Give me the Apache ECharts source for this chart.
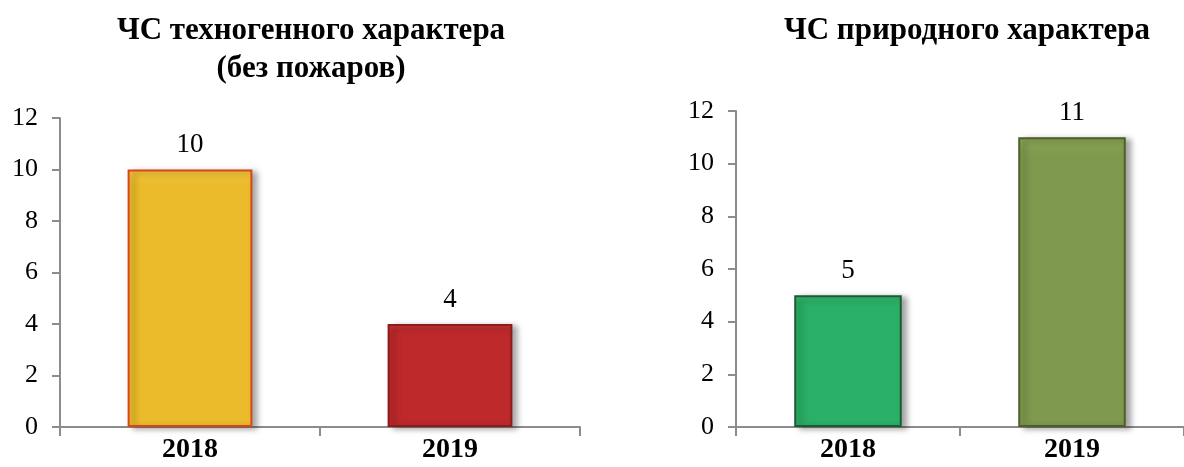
<!DOCTYPE html>
<html><head><meta charset="utf-8">
<script src="https://cdn.jsdelivr.net/npm/echarts@6/dist/echarts.min.js"></script>
<style>html,body{margin:0;padding:0;background:#fff}#c{width:1184px;height:467px}</style>
</head><body><div id="c"></div>
<script>
const categories = ['2018', '2019'];
const techValues = [10, 4];
const natValues = [5, 11];
const yTicks = [0, 2, 4, 6, 8, 10, 12];
const titleTech = 'ЧС техногенного характера\n(без пожаров)';
const titleNat = 'ЧС природного характера';

const techColors = [['#F2C63A', '#EBBB2B', '#D8461A'], ['#CC3A3C', '#BE292B', '#8E1B1B']];
const natColors = [['#38BE72', '#2AB067', '#1E5A33'], ['#8AA556', '#7F9A4E', '#4B5F2A']];

const FONT = '"Liberation Serif","Times New Roman",serif';

function mkData(vals, cols) {
  return vals.map((v, i) => ({
    value: v,
    itemStyle: {
      color: new echarts.graphic.LinearGradient(0, 0, 0, 1, [{offset: 0, color: cols[i][0]}, {offset: 0.06, color: cols[i][1]}, {offset: 1, color: cols[i][1]}]),
      borderColor: cols[i][2],
      borderWidth: 2,
      shadowColor: 'rgba(0,0,0,0.35)',
      shadowBlur: 6,
      shadowOffsetX: 5,
      shadowOffsetY: 2
    }
  }));
}

const axisLine = {lineStyle: {color: '#8c8c8c', width: 2}};
function xAx(gi) {
  return {
    type: 'category', gridIndex: gi, data: categories,
    axisLine: axisLine,
    axisTick: {show: true, length: 9, lineStyle: {color: '#8c8c8c', width: 2}},
    axisLabel: {color: '#000', fontFamily: FONT, fontSize: 28, fontWeight: 'bold', margin: 9}
  };
}
function yAx(gi) {
  return {
    type: 'value', gridIndex: gi, min: yTicks[0], max: yTicks[yTicks.length - 1], interval: 2,
    axisLine: {show: true, lineStyle: {color: '#8c8c8c', width: 2}},
    axisTick: {show: true, length: 8, lineStyle: {color: '#8c8c8c', width: 2}},
    splitLine: {show: false},
    axisLabel: {color: '#000', fontFamily: FONT, fontSize: 26, margin: 22}
  };
}
const lbl = {show: true, position: 'top', distance: 11, color: '#000', fontFamily: FONT, fontSize: 27};

const chart = echarts.init(document.getElementById('c'));
chart.setOption({
  animation: false,
  title: [
    {text: titleTech, left: 306, textAlign: 'center', top: 7, textStyle: {fontFamily: FONT, fontSize: 31, fontWeight: 'bold', color: '#000', lineHeight: 38}},
    {text: titleNat, left: 962, textAlign: 'center', top: 7, textStyle: {fontFamily: FONT, fontSize: 31, fontWeight: 'bold', color: '#000', lineHeight: 38}}
  ],
  grid: [
    {left: 60, right: 604, top: 118, bottom: 40},
    {left: 736, right: 0, top: 111, bottom: 40}
  ],
  xAxis: [xAx(0), xAx(1)],
  yAxis: [yAx(0), yAx(1)],
  series: [
    {type: 'bar', xAxisIndex: 0, yAxisIndex: 0, barWidth: '48%', data: mkData(techValues, techColors), label: lbl},
    {type: 'bar', xAxisIndex: 1, yAxisIndex: 1, barWidth: '48%', data: mkData(natValues, natColors), label: lbl}
  ]
});
</script></body></html>
